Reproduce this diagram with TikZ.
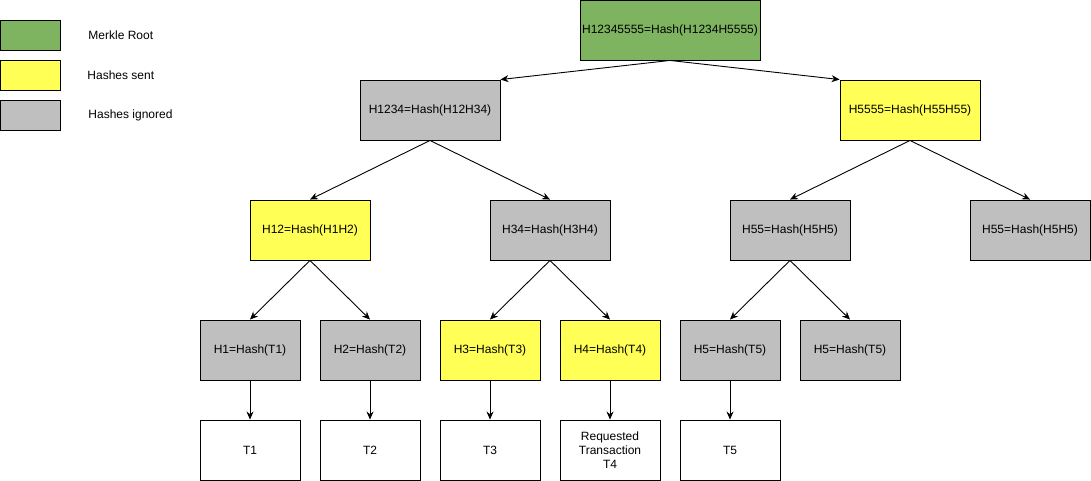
\documentclass[tikz,border=0pt]{standalone}
\usepackage{fontspec}
\setmainfont{Liberation Sans}
\usetikzlibrary{arrows.meta}
\definecolor{rootgreen}{HTML}{7EB360}
\definecolor{sentyellow}{HTML}{FFFF55}
\definecolor{ignoredgray}{HTML}{BFBFBF}
\begin{document}
\begin{tikzpicture}[x=1pt,y=-1pt,line width=0.9pt,
  every node/.style={font=\fontsize{12}{14}\selectfont,inner sep=0pt},
  hashbox/.style={draw,minimum width=#1,minimum height=60pt},
  rootbox/.style={hashbox=180pt,fill=rootgreen},
  sentbox/.style={hashbox=#1,fill=sentyellow},
  ignoredbox/.style={hashbox=#1,fill=ignoredgray},
  txbox/.style={hashbox=100pt,fill=white,align=center},
  keybox/.style={draw,minimum width=60pt,minimum height=30pt},
  arr/.style={-{Stealth[length=8pt,width=7pt]}}]
  \useasboundingbox (0,0) rectangle (1091,481);
  % legend
  \node[keybox,fill=rootgreen] (kroot) at (30,35) {};
  \node[keybox,fill=sentyellow] (ksent) at (30,75) {};
  \node[keybox,fill=ignoredgray] (kign) at (30,115) {};
  \node[anchor=west] (lroot) at (88,35) {Merkle Root};
  \node[anchor=west] (lsent) at (87,75) {Hashes sent};
  \node[anchor=west] (lign) at (88,115) {Hashes ignored};
  % tree
  \node[rootbox] (r) at (670,30) {H12345555=Hash(H1234H5555)};
    \node[ignoredbox=140pt] (h1234) at (430,110) {H1234=Hash(H12H34)};
    \node[sentbox=140pt] (h5555) at (910,110) {H5555=Hash(H55H55)};
    \node[sentbox=120pt] (h12) at (310,230) {H12=Hash(H1H2)};
    \node[ignoredbox=120pt] (h34) at (550,230) {H34=Hash(H3H4)};
    \node[ignoredbox=120pt] (h55) at (790,230) {H55=Hash(H5H5)};
    \node[ignoredbox=120pt] (h55b) at (1030,230) {H55=Hash(H5H5)};
    \node[ignoredbox=100pt] (h1) at (250,350) {H1=Hash(T1)};
    \node[ignoredbox=100pt] (h2) at (370,350) {H2=Hash(T2)};
    \node[sentbox=100pt] (h3) at (490,350) {H3=Hash(T3)};
    \node[sentbox=100pt] (h4) at (610,350) {H4=Hash(T4)};
    \node[ignoredbox=100pt] (h5) at (730,350) {H5=Hash(T5)};
    \node[ignoredbox=100pt] (h5b) at (850,350) {H5=Hash(T5)};
    \node[txbox] (t1) at (250,450) {T1};
    \node[txbox] (t2) at (370,450) {T2};
    \node[txbox] (t3) at (490,450) {T3};
    \node[txbox] (t4) at (610,450) {Requested\\Transaction\\T4};
    \node[txbox] (t5) at (730,450) {T5};
    \draw[arr] (r.south) -- (h1234.north east);
    \draw[arr] (r.south) -- (h5555.north west);
    \draw[arr] (h1234.south) -- (h12.north);
    \draw[arr] (h1234.south) -- (h34.north);
    \draw[arr] (h5555.south) -- (h55.north);
    \draw[arr] (h5555.south) -- (h55b.north);
    \draw[arr] (h12.south) -- (h1.north);
    \draw[arr] (h12.south) -- (h2.north);
    \draw[arr] (h34.south) -- (h3.north);
    \draw[arr] (h34.south) -- (h4.north);
    \draw[arr] (h55.south) -- (h5.north);
    \draw[arr] (h55.south) -- (h5b.north);
    \draw[arr] (h1) -- (t1);
    \draw[arr] (h2) -- (t2);
    \draw[arr] (h3) -- (t3);
    \draw[arr] (h4) -- (t4);
    \draw[arr] (h5) -- (t5);
\end{tikzpicture}
\end{document}
